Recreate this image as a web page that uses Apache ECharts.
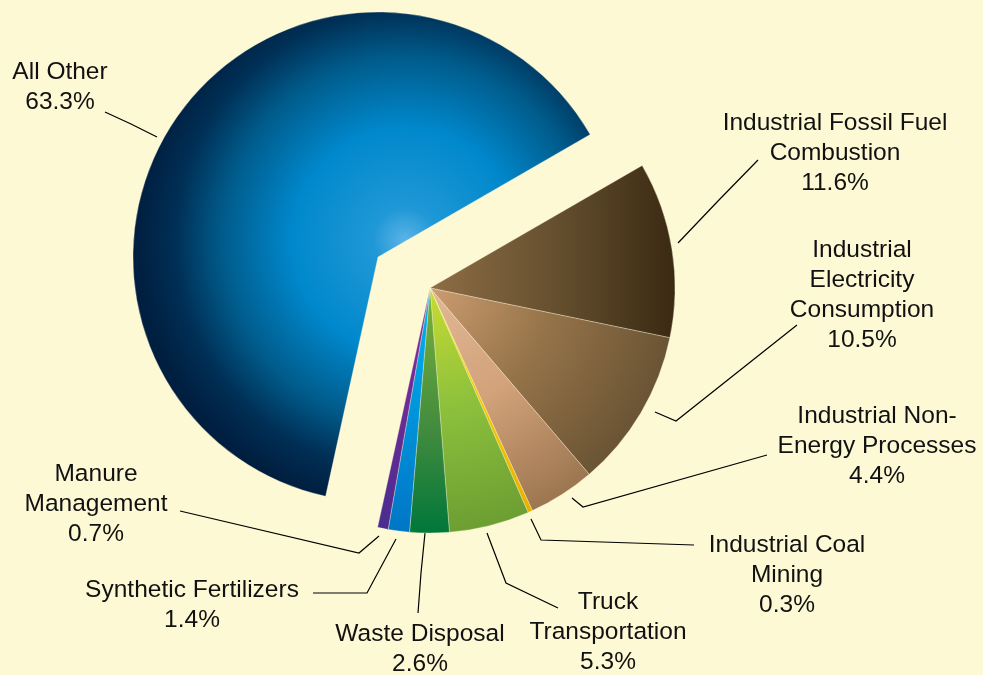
<!DOCTYPE html>
<html>
<head>
<meta charset="utf-8">
<script src="https://cdn.jsdelivr.net/npm/echarts@6/dist/echarts.min.js"></script>
<style>
  html, body { margin: 0; padding: 0; background: #fdf9d5; }
  #chart { width: 983px; height: 675px; }
</style>
</head>
<body>
<div id="chart"></div>
<script>
  // slices, clockwise from the upper right
  var categories = [
    'Industrial Fossil Fuel\nCombustion',
    'Industrial\nElectricity\nConsumption',
    'Industrial Non-\nEnergy Processes',
    'Industrial Coal\nMining',
    'Truck\nTransportation',
    'Waste Disposal',
    'Synthetic Fertilizers',
    'Manure\nManagement',
    'All Other'
  ];
  var shares = [11.6, 10.5, 4.4, 0.3, 5.3, 2.6, 1.4, 0.7, 63.3];
  var EXPLODED = 8; // "All Other" is pulled out of the pie

  var CENTER = [430, 288];
  var OTHER_CENTER = [378, 257];
  var RADIUS = 245;

  // label centres and leader lines (layout only)
  var labelPos = [
    [835, 153], [862, 295], [877, 446], [787, 575], [608, 632],
    [420, 649], [192, 605], [96, 504], [60, 87]
  ];
  var leaders = [
    [[678, 243], [718, 201], [758, 160]],
    [[655, 412], [676, 421], [797, 325]],
    [[572, 498], [583, 507], [767, 455]],
    [[531, 519], [541, 540], [694, 545]],
    [[487, 533], [506, 583], [558, 608]],
    [[425, 533], [421, 573], [418, 613]],
    [[396, 539], [367, 593], [313, 593]],
    [[379, 536], [359, 553], [180, 511]],
    [[157, 137], [131, 124], [105, 112]]
  ];

  function stops(list) {
    return list.map(function (s) { return { offset: s[0], color: s[1] }; });
  }
  function radial(c, r, list) {
    return { type: 'radial', x: c[0], y: c[1], r: r, global: true, colorStops: stops(list) };
  }

  var sliceColors = [
    { type: 'linear', x: 430, y: 0, x2: 675, y2: 0, global: true,
      colorStops: stops([[0, '#8e6d46'], [0.5, '#66502f'], [1, '#3a2a12']]) },
    radial(CENTER, RADIUS, [[0, '#cc9d70'], [0.5, '#957349'], [1, '#6a5434']]),
    radial(CENTER, RADIUS, [[0, '#e0b896'], [0.5, '#d2a27a'], [1, '#9c7650']]),
    radial(CENTER, RADIUS, [[0, '#ffe000'], [1, '#e8b000']]),
    radial(CENTER, RADIUS, [[0, '#c8dc32'], [0.5, '#8cc03c'], [1, '#6c9e32']]),
    radial(CENTER, RADIUS, [[0, '#7cb13a'], [0.6, '#3f8a3e'], [1, '#00773a']]),
    radial(CENTER, RADIUS, [[0, '#00b4f0'], [1, '#0076c6']]),
    radial(CENTER, RADIUS, [[0, '#8a2b9a'], [1, '#4a2d8f']]),
    radial([405, 240], 268, [[0, '#5cb3e6'], [0.12, '#1f98d6'], [0.42, '#0088cc'],
      [0.68, '#005c8c'], [0.86, '#002f55'], [1, '#001f40']])
  ];

  function buildData(visible) {
    return shares.map(function (v, i) {
      var on = visible(i);
      return {
        name: categories[i],
        value: v,
        itemStyle: on ? { color: sliceColors[i] } : { color: 'rgba(0,0,0,0)', borderWidth: 0 },
        label: { show: on },
        labelLine: { show: on }
      };
    });
  }

  var baseSeries = {
    type: 'pie',
    radius: RADIUS,
    startAngle: 30,
    clockwise: true,
    avoidLabelOverlap: false,
    silent: true,
    itemStyle: { borderColor: 'rgba(255,250,220,0.55)', borderWidth: 0.6 },
    label: {
      position: 'outside',
      overflow: 'none',
      fontFamily: 'Liberation Sans, Arial, sans-serif',
      fontSize: 24.5,
      lineHeight: 30,
      color: '#111',
      align: 'center',
      formatter: function (p) { return p.name + '\n' + p.value.toFixed(1) + '%'; }
    },
    labelLine: { show: true, length: 10, length2: 10, lineStyle: { color: '#000', width: 1.2 } },
    labelLayout: function (p) {
      var i = p.dataIndex;
      return {
        x: labelPos[i][0], y: labelPos[i][1],
        align: 'center', verticalAlign: 'middle',
        labelLinePoints: leaders[i]
      };
    },
    emphasis: { disabled: true }
  };

  var chart = echarts.init(document.getElementById('chart'));
  chart.setOption({
    backgroundColor: '#fdf9d5',
    animation: false,
    series: [
      Object.assign({}, baseSeries, {
        center: CENTER,
        data: buildData(function (i) { return i !== EXPLODED; })
      }),
      Object.assign({}, baseSeries, {
        center: OTHER_CENTER,
        data: buildData(function (i) { return i === EXPLODED; })
      })
    ]
  });
</script>
</body>
</html>
